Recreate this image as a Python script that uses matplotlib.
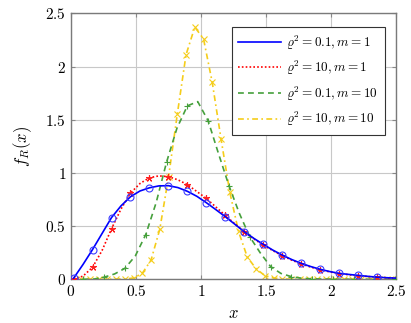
import matplotlib
matplotlib.use("Agg")
import matplotlib.pyplot as plt
from matplotlib.lines import Line2D
import numpy as np

plt.rcParams['mathtext.fontset'] = 'cm'
plt.rcParams['font.family'] = 'DejaVu Serif'

# sample positions
x_m1 = np.linspace(0.02, 2.5, 35)
x_g = np.linspace(0.015, 2.495, 32)
x_y = np.linspace(0.01, 2.5, 38)

# rho^2 = 0.1, m = 1
y_blue = [0.01, 0.14, 0.28, 0.43, 0.58, 0.69, 0.776, 0.83, 0.86, 0.878,
          0.88, 0.862, 0.827, 0.78, 0.72, 0.655, 0.588, 0.518, 0.447, 0.385,
          0.329, 0.275, 0.228, 0.186, 0.15, 0.12, 0.094, 0.073, 0.056, 0.046,
          0.037, 0.028, 0.02, 0.015, 0.011]
# rho^2 = 10, m = 1
y_red = [0.0, 0.03, 0.113, 0.27, 0.475, 0.66, 0.81, 0.9, 0.955, 0.972,
         0.965, 0.935, 0.89, 0.825, 0.76, 0.68, 0.6, 0.522, 0.447, 0.38,
         0.322, 0.27, 0.222, 0.18, 0.145, 0.115, 0.09, 0.07, 0.054, 0.043,
         0.034, 0.026, 0.019, 0.014, 0.01]
# rho^2 = 0.1, m = 10
y_green = [0.0, 0.0, 0.002, 0.02, 0.05, 0.103, 0.22, 0.42, 0.72, 1.1,
           1.42, 1.63, 1.67, 1.49, 1.18, 0.88, 0.62, 0.4, 0.25, 0.12,
           0.055, 0.025, 0.01, 0.004, 0.002, 0.001, 0.0, 0.0, 0.0, 0.0,
           0.0, 0.0]
# rho^2 = 10, m = 10
y_yellow = [0.0, 0.0, 0.0, 0.0, 0.0, 0.002, 0.003, 0.012, 0.056, 0.18,
            0.47, 0.96, 1.55, 2.11, 2.37, 2.26, 1.85, 1.32, 0.82, 0.45,
            0.21, 0.1, 0.035, 0.012, 0.004, 0.001, 0.0, 0.0, 0.0, 0.0,
            0.0, 0.0, 0.0, 0.0, 0.0, 0.0, 0.0, 0.0]

labels = [r'$\varrho^2 = 0.1, m = 1$', r'$\varrho^2 = 10, m = 1$',
          r'$\varrho^2 = 0.1, m = 10$', r'$\varrho^2 = 10, m = 10$']
colors = ['#0000ff', '#ff0000', '#46a03c', '#f5cd1a']
styles = ['-', (0, (1, 1.3)), (0, (3.5, 2.5)), (0, (3.5, 2, 1, 2))]
ticks = [0, 0.5, 1, 1.5, 2, 2.5]

fig = plt.figure(figsize=(4.11, 3.23), dpi=100)
ax = fig.add_axes([0.1727, 0.1353, 0.7908, 0.8235])

ax.plot(x_m1, y_blue, color=colors[0], lw=1.2, ls=styles[0], marker='o', ms=5,
        mfc='none', mec='#3b3bff', mew=0.8, markevery=slice(0, 34, 2), zorder=5)
ax.plot(x_m1, y_red, color=colors[1], lw=1.2, ls=styles[1],
        marker=(5, 2, 0), ms=5, mec='#ff2020', mew=0.8,
        markevery=slice(0, 34, 2), zorder=4)
ax.plot(x_g, y_green, color=colors[2], lw=1.2, ls=styles[2],
        marker='+', ms=5, mew=0.8, markevery=(1, 2), zorder=3)
ax.plot(x_y, y_yellow, color=colors[3], lw=1.2, ls=styles[3],
        marker='x', ms=4, mew=0.8, zorder=2)

ax.set_xlim(0, 2.5)
ax.set_ylim(0, 2.5)
ax.set_xticks(ticks)
ax.set_yticks(ticks)
ax.set_xticklabels(['$%g$' % t for t in ticks], fontsize=11)
ax.set_yticklabels(['$%g$' % t for t in ticks], fontsize=11)
ax.grid(True, color='#c8c8c8', lw=0.8)
ax.set_axisbelow(True)
ax.tick_params(direction='in', length=3, top=True, right=True, color='#888888')
for s in ax.spines.values():
    s.set_color('#7a7a7a')
    s.set_linewidth(1.0)

ax.set_xlabel('$x$', fontsize=12, labelpad=4)
ax.set_ylabel('$f_R(x)$', fontsize=12, labelpad=8)

# legend shows only the line styles, no marks
handles = [Line2D([], [], color=c, ls=s, lw=1.2) for c, s in zip(colors, styles)]
leg = ax.legend(handles, labels, loc='upper right', bbox_to_anchor=(0.985, 0.975),
                fontsize=9.5, fancybox=False, framealpha=1, edgecolor='#333333',
                handlelength=3.2, borderpad=0.5, labelspacing=0.55,
                handletextpad=0.4)
leg.get_frame().set_linewidth(0.8)

fig.savefig('out.png', dpi=100)
